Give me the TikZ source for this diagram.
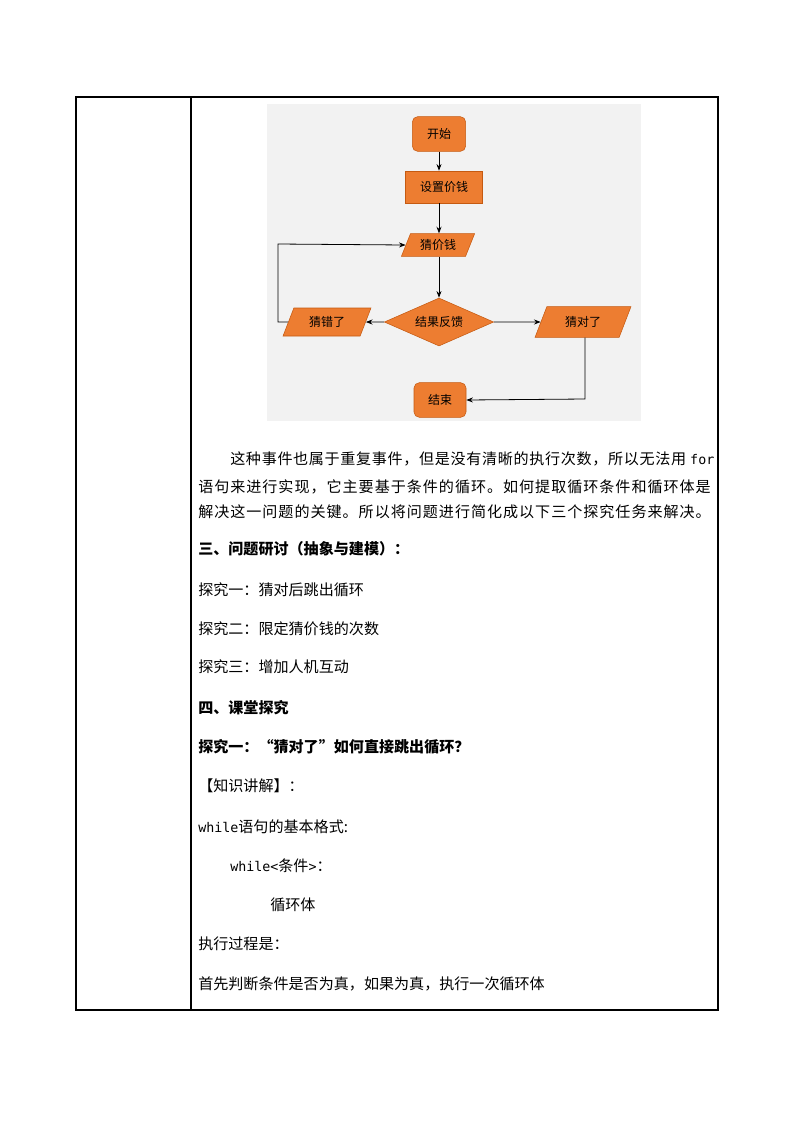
\documentclass[tikz,border=0pt]{standalone}
\usepackage{fontspec}
\usetikzlibrary{shapes.geometric,arrows.meta}
\newfontfamily\cjk{Noto Sans CJK SC}
\newfontfamily\cjksp[LetterSpace=6.5]{Noto Sans CJK SC}
\newfontfamily\cjkspa[LetterSpace=4.5]{Noto Sans CJK SC}
\newfontfamily\cjkmono{DejaVu Sans Mono}
\definecolor{org}{HTML}{ED7D31}
\definecolor{orgd}{HTML}{C55A11}
\begin{document}
\begin{tikzpicture}[x=0.75pt,y=-0.75pt,
  box/.style={fill=org,draw=orgd,font=\cjk\fontsize{9}{10}\selectfont,inner sep=0pt},
  para/.style={box,trapezium,trapezium left angle=62,trapezium right angle=118,trapezium stretches=true,minimum height=22},
  arr/.style={-{Stealth[length=5pt]},semithick},
  txt/.style={anchor=west,inner sep=0pt,font=\cjk\fontsize{11.3}{13}\selectfont},
  bld/.style={txt,font=\cjk\bfseries\fontsize{11.3}{13}\selectfont}]
\useasboundingbox (0,0) rectangle (793,1122);
\fill[white] (0,0) rectangle (793,1122);
\draw[thick] (76,97) rectangle (718,1010);
\draw[thick] (191,97) -- (191,1010);
\fill[gray!10] (267,104) rectangle (641,421);
\node[box,rounded corners=4pt,minimum width=40pt,minimum height=26pt] (s) at (439,134) {开始};
\node[box,minimum width=58pt,minimum height=24pt] (p) at (444,187) {设置价钱};
\node[para,minimum width=55pt,minimum height=17pt] (g) at (438,245) {猜价钱};
\node[box,diamond,aspect=2.3,minimum width=82pt,minimum height=36pt] (d) at (439,322) {结果反馈};
\node[para,minimum width=66pt,minimum height=21pt] (w) at (327,322) {猜错了};
\node[para,minimum width=72pt,minimum height=23pt] (r) at (583,322) {猜对了};
\node[box,rounded corners=4pt,minimum width=39pt,minimum height=26pt] (e) at (440,400) {结束};
\draw[arr] (s) -- (s|-p.north);
\draw[arr] (p.south-|s) -- (s|-g.north);
\draw[arr] (g.south-|s) -- (d.north);
\draw[arr] (d.west) -- (w.east);
\draw[arr] (d.east) -- (r.west);
\coordinate (c1) at (278,322);
\coordinate (c2) at (278,244);
\draw[arr] (w.west) -- (c1) -- (c2) -- (g.west);
\coordinate (c3) at (585,399);
\draw[arr] (r.south-|c3) -- (c3) -- (e.east);
\node[txt,font=\cjkspa\fontsize{11.3}{13}\selectfont] (t1) at (230,459) {这种事件也属于重复事件，但是没有清晰的执行次数，所以无法用 {\cjkmono\fontsize{10}{12}\selectfont for}};
\node[txt,font=\cjksp\fontsize{11.3}{13}\selectfont] (t2) at (198,487) {语句来进行实现，它主要基于条件的循环。如何提取循环条件和循环体是};
\node[txt,font=\cjksp\fontsize{11.3}{13}\selectfont] (t3) at (198,512) {解决这一问题的关键。所以将问题进行简化成以下三个探究任务来解决。};
\node[bld] (h1) at (198,549) {三、问题研讨（抽象与建模）：};
\node[txt] (a1) at (198,590) {探究一：猜对后跳出循环};
\node[txt] (a2) at (198,629) {探究二：限定猜价钱的次数};
\node[txt] (a3) at (198,667) {探究三：增加人机互动};
\node[bld] (h2) at (198,708) {四、课堂探究};
\node[bld] (h3) at (198,747) {探究一：“猜对了”如何直接跳出循环？};
\node[txt] (k) at (198,786) {【知识讲解】：};
\node[txt] (w1) at (198,827) {{\cjkmono\fontsize{10}{12}\selectfont while}语句的基本格式:};
\node[txt] (w2) at (230,866) {{\cjkmono\fontsize{10}{12}\selectfont while<}条件{\cjkmono\fontsize{10}{12}\selectfont >}：};
\node[txt] (w3) at (270,905) {循环体};
\node[txt] (x1) at (198,944) {执行过程是：};
\node[txt] (x2) at (198,984) {首先判断条件是否为真，如果为真，执行一次循环体};
\end{tikzpicture}
\end{document}
